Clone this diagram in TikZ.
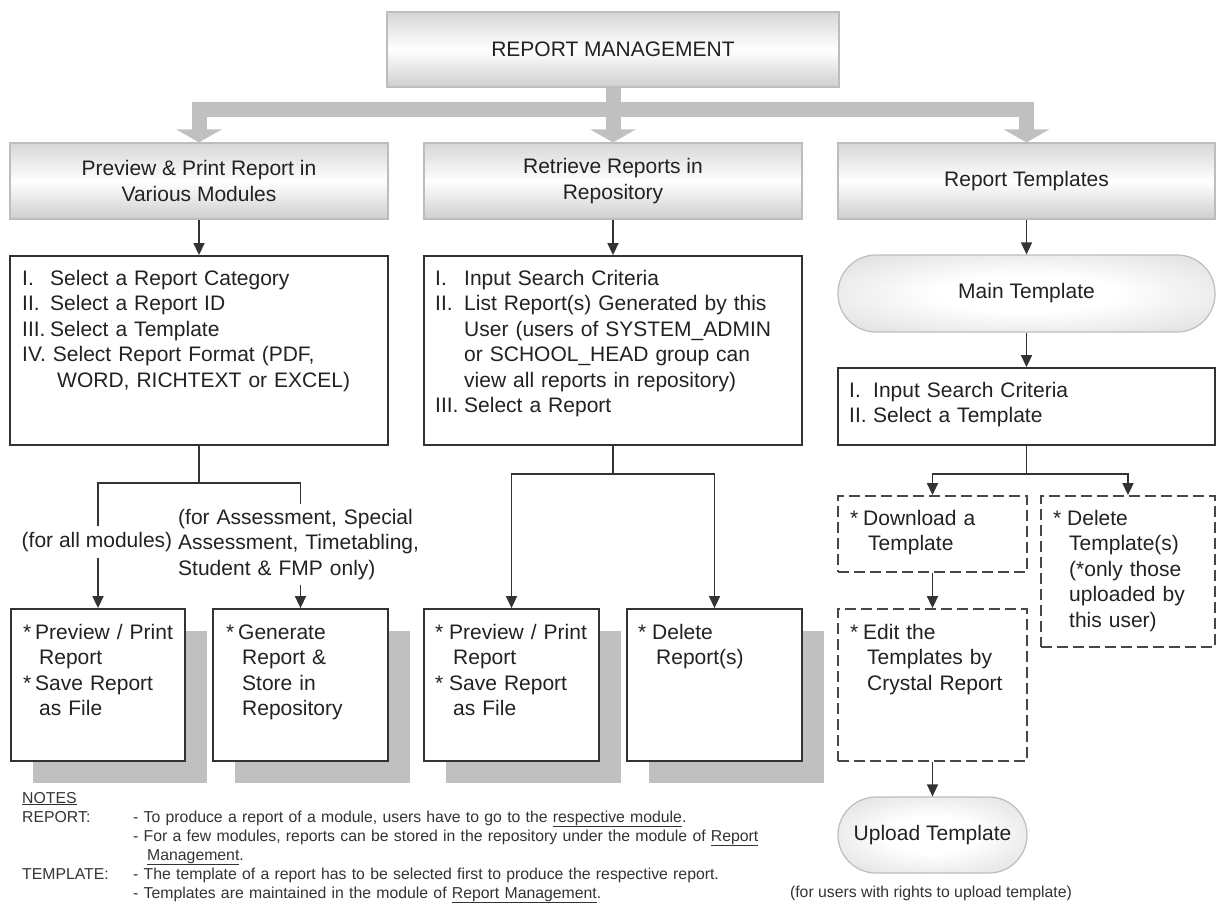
\documentclass[tikz,border=0pt]{standalone}
\usepackage{fontspec}
\setmainfont{Liberation Sans}
\usetikzlibrary{arrows.meta,calc,shadows}
\definecolor{txtc}{HTML}{222222}
\definecolor{bordc}{HTML}{333333}
\definecolor{connG}{HTML}{C0C0C0}
\definecolor{gbordc}{HTML}{BDBDBD}
\definecolor{shadc}{HTML}{C0C0C0}
\newcommand{\mfs}{\fontsize{21}{25.5}\selectfont}
\newcommand{\nfs}{\fontsize{15.8}{19}\selectfont}
\pgfdeclareradialshading{pillshade}{\pgfpoint{0bp}{0bp}}{color(0bp)=(white); color(12bp)=(white); color(50bp)=(gray!42)}
\tikzset{
  every node/.style={text=txtc, font=\mfs},
  hbox/.style={draw=gbordc, line width=1.2pt, top color=gray!32, bottom color=gray!38, middle color=white, inner sep=0pt, align=center},
  wbox/.style={draw=bordc, line width=1.8pt, fill=white, inner sep=0pt},
  shbox/.style={wbox, drop shadow={shadow xshift=22pt, shadow yshift=-22pt, fill=shadc, opacity=1, draw=none}},
  dbox/.style={draw=bordc!90, line width=1.8pt, dash pattern=on 11pt off 5pt, fill=white, inner sep=0pt},
  pill/.style={draw=gbordc, line width=1.2pt, rounded corners=38pt, shading=pillshade, inner sep=0pt},
  txtn/.style={anchor=base west, inner sep=0pt, align=left},
  note/.style={anchor=base west, inner sep=0pt, align=left, font=\nfs, text=bordc},
  fatarrow/.style={draw=connG, line width=15pt, line join=miter, -{Triangle[width=45pt,length=13pt]}},
  arr/.style={draw=bordc, line width=1.6pt, -{Triangle[width=11pt,length=12pt]}},
  ln/.style={draw=bordc, line width=1.6pt}
}
\begin{document}
\begin{tikzpicture}[x=1pt,y=-1pt]
\useasboundingbox (0,0) rectangle (1216,905);

% top level
\node[hbox, minimum width=452pt, minimum height=75pt] (top) at (613,49.5) {REPORT MANAGEMENT};

% second level
\node[hbox, minimum width=378pt, minimum height=76pt] (pp) at (199,181) {Preview \& Print Report in\\Various Modules};
\node[hbox, minimum width=378pt, minimum height=76pt] (rr) at (613,181) {Retrieve Reports in\\Repository};
\node[hbox, minimum width=377pt, minimum height=76pt] (rt) at (1026.5,181) {Report Templates};

% thick gray connectors
\coordinate (barY) at (0,109.5);
\draw[fatarrow] (top.south) |- (barY -| pp.north) -- (pp.north);
\draw[fatarrow] (top.south) |- (barY -| rt.north) -- (rt.north);
\draw[fatarrow] (top.south) -- (rr.north);

% third level
\node[wbox, minimum width=378pt, minimum height=189pt] (sel) at (199,350.5) {};
\node[txtn, text width=360pt] (selT) at (22,285) {%
\makebox[28pt][l]{I.}Select a Report Category\\
\makebox[28pt][l]{II.}Select a Report ID\\
\makebox[28pt][l]{III.}Select a Template\\
IV. Select Report Format (PDF,\\
\hspace*{35pt}WORD, RICHTEXT or EXCEL)};

\node[wbox, minimum width=378pt, minimum height=189pt] (ret) at (613,350.5) {};
\node[txtn, text width=360pt] (retT) at (435,285) {%
\makebox[29pt][l]{I.}Input Search Criteria\\
\makebox[29pt][l]{II.}List Report(s) Generated by this\\
\hspace*{29pt}User (users of SYSTEM\_ADMIN\\
\hspace*{29pt}or SCHOOL\_HEAD group can\\
\hspace*{29pt}view all reports in repository)\\
\makebox[29pt][l]{III.}Select a Report};

\node[pill, minimum width=377pt, minimum height=77pt] (mt) at (1026.5,293.5) {Main Template};
\node[wbox, minimum width=377pt, minimum height=77pt] (srch) at (1026.5,406.5) {};
\node[txtn, text width=350pt] (srchT) at (849,397) {%
\makebox[24pt][l]{I.}Input Search Criteria\\
\makebox[24pt][l]{II.}Select a Template};

% bottom boxes
\node[shbox, minimum width=174pt, minimum height=152pt] (b1) at (98,685) {};
\node[txtn, text width=165pt] (b1T) at (23,639) {%
\makebox[12pt][l]{*}Preview / Print\\
\hspace*{16pt}Report\\
\makebox[12pt][l]{*}Save Report\\
\hspace*{16pt}as File};

\node[shbox, minimum width=175pt, minimum height=152pt] (b2) at (300.5,685) {};
\node[txtn, text width=165pt] (b2T) at (226,639) {%
\makebox[12pt][l]{*}Generate\\
\hspace*{16pt}Report \&\\
\hspace*{16pt}Store in\\
\hspace*{16pt}Repository};

\node[shbox, minimum width=175pt, minimum height=152pt] (b3) at (511.5,685) {};
\node[txtn, text width=165pt] (b3T) at (435,639) {%
\makebox[14pt][l]{*}Preview / Print\\
\hspace*{18pt}Report\\
\makebox[14pt][l]{*}Save Report\\
\hspace*{18pt}as File};

\node[shbox, minimum width=175pt, minimum height=152pt] (b4) at (714.5,685) {};
\node[txtn, text width=165pt] (b4T) at (638,639) {%
\makebox[14pt][l]{*}Delete\\
\hspace*{18pt}Report(s)};

% template branch boxes
\node[dbox, minimum width=189pt, minimum height=76pt] (dl) at (932.5,534) {};
\node[txtn, text width=180pt] (dlT) at (850,525) {%
\makebox[13pt][l]{*}Download a\\
\hspace*{18pt}Template};

\node[dbox, minimum width=174pt, minimum height=151pt] (del) at (1128,571.5) {};
\node[txtn, text width=165pt] (delT) at (1053,525) {%
\makebox[14pt][l]{*}Delete\\
\hspace*{16pt}Template(s)\\
\hspace*{16pt}(*only those\\
\hspace*{16pt}uploaded by\\
\hspace*{16pt}this user)};

\node[dbox, minimum width=189pt, minimum height=152pt] (ed) at (932.5,685) {};
\node[txtn, text width=180pt] (edT) at (850,639) {%
\makebox[13pt][l]{*}Edit the\\
\hspace*{17pt}Templates by\\
\hspace*{17pt}Crystal Report};

\node[pill, minimum width=189pt, minimum height=76pt] (up) at (932.5,835) {Upload Template};
\node[anchor=base, inner sep=0pt, font=\nfs, text=bordc] (upN) at (931,897) {(for users with rights to upload template)};

% branch labels
\node[inner xsep=0pt, inner ysep=6pt] (lblA) at (97,542) {(for all modules)};
\node[txtn, inner ysep=5pt, text width=250pt] (lblB) at (178,524) {(for Assessment, Special\\Assessment, Timetabling,\\Student \& FMP only)};

% thin connectors
\draw[arr] (pp.south) -- (sel.north);
\draw[arr] (rr.south) -- (ret.north);
\draw[arr] (rt.south) -- (mt.north);
\draw[arr] (mt.south) -- (srch.north);

\draw[ln] (sel.south) -- ++(0,37) coordinate (j1);
\draw[ln] (j1) -| (b1.north |- lblA.north);
\draw[arr] (b1.north |- lblA.south) -- (b1.north);
\draw[ln] (j1) -| (b2.north |- lblB.north);
\draw[arr] (b2.north |- lblB.south) -- (b2.north);

\draw[ln] (ret.south) -- ++(0,28) coordinate (j2);
\draw[arr] (j2) -| (b3.north);
\draw[arr] (j2) -| (b4.north);

\draw[ln] (srch.south) -- ++(0,28) coordinate (j3);
\draw[arr] (j3) -| (dl.north);
\draw[arr] (j3) -| (del.north);
\draw[arr] (dl.south) -- (ed.north);
\draw[arr] (ed.south) -- (up.north);

% notes
\node[note] (nH) at (22,803) {\underline{NOTES}};
\node[note] (nR) at (22,822) {REPORT:};
\node[note, text width=700pt] (nR1) at (133,822) {- To produce a report of a module, users have to go to the \underline{respective module}.\\
- For a few modules, reports can be stored in the repository under the module of \underline{Report}\\
\hspace*{14pt}\underline{Management}.};
\node[note] (nT) at (22,879) {TEMPLATE:};
\node[note, text width=700pt] (nT1) at (133,879) {- The template of a report has to be selected first to produce the respective report.\\
- Templates are maintained in the module of \underline{Report Management}.};
\end{tikzpicture}
\end{document}
